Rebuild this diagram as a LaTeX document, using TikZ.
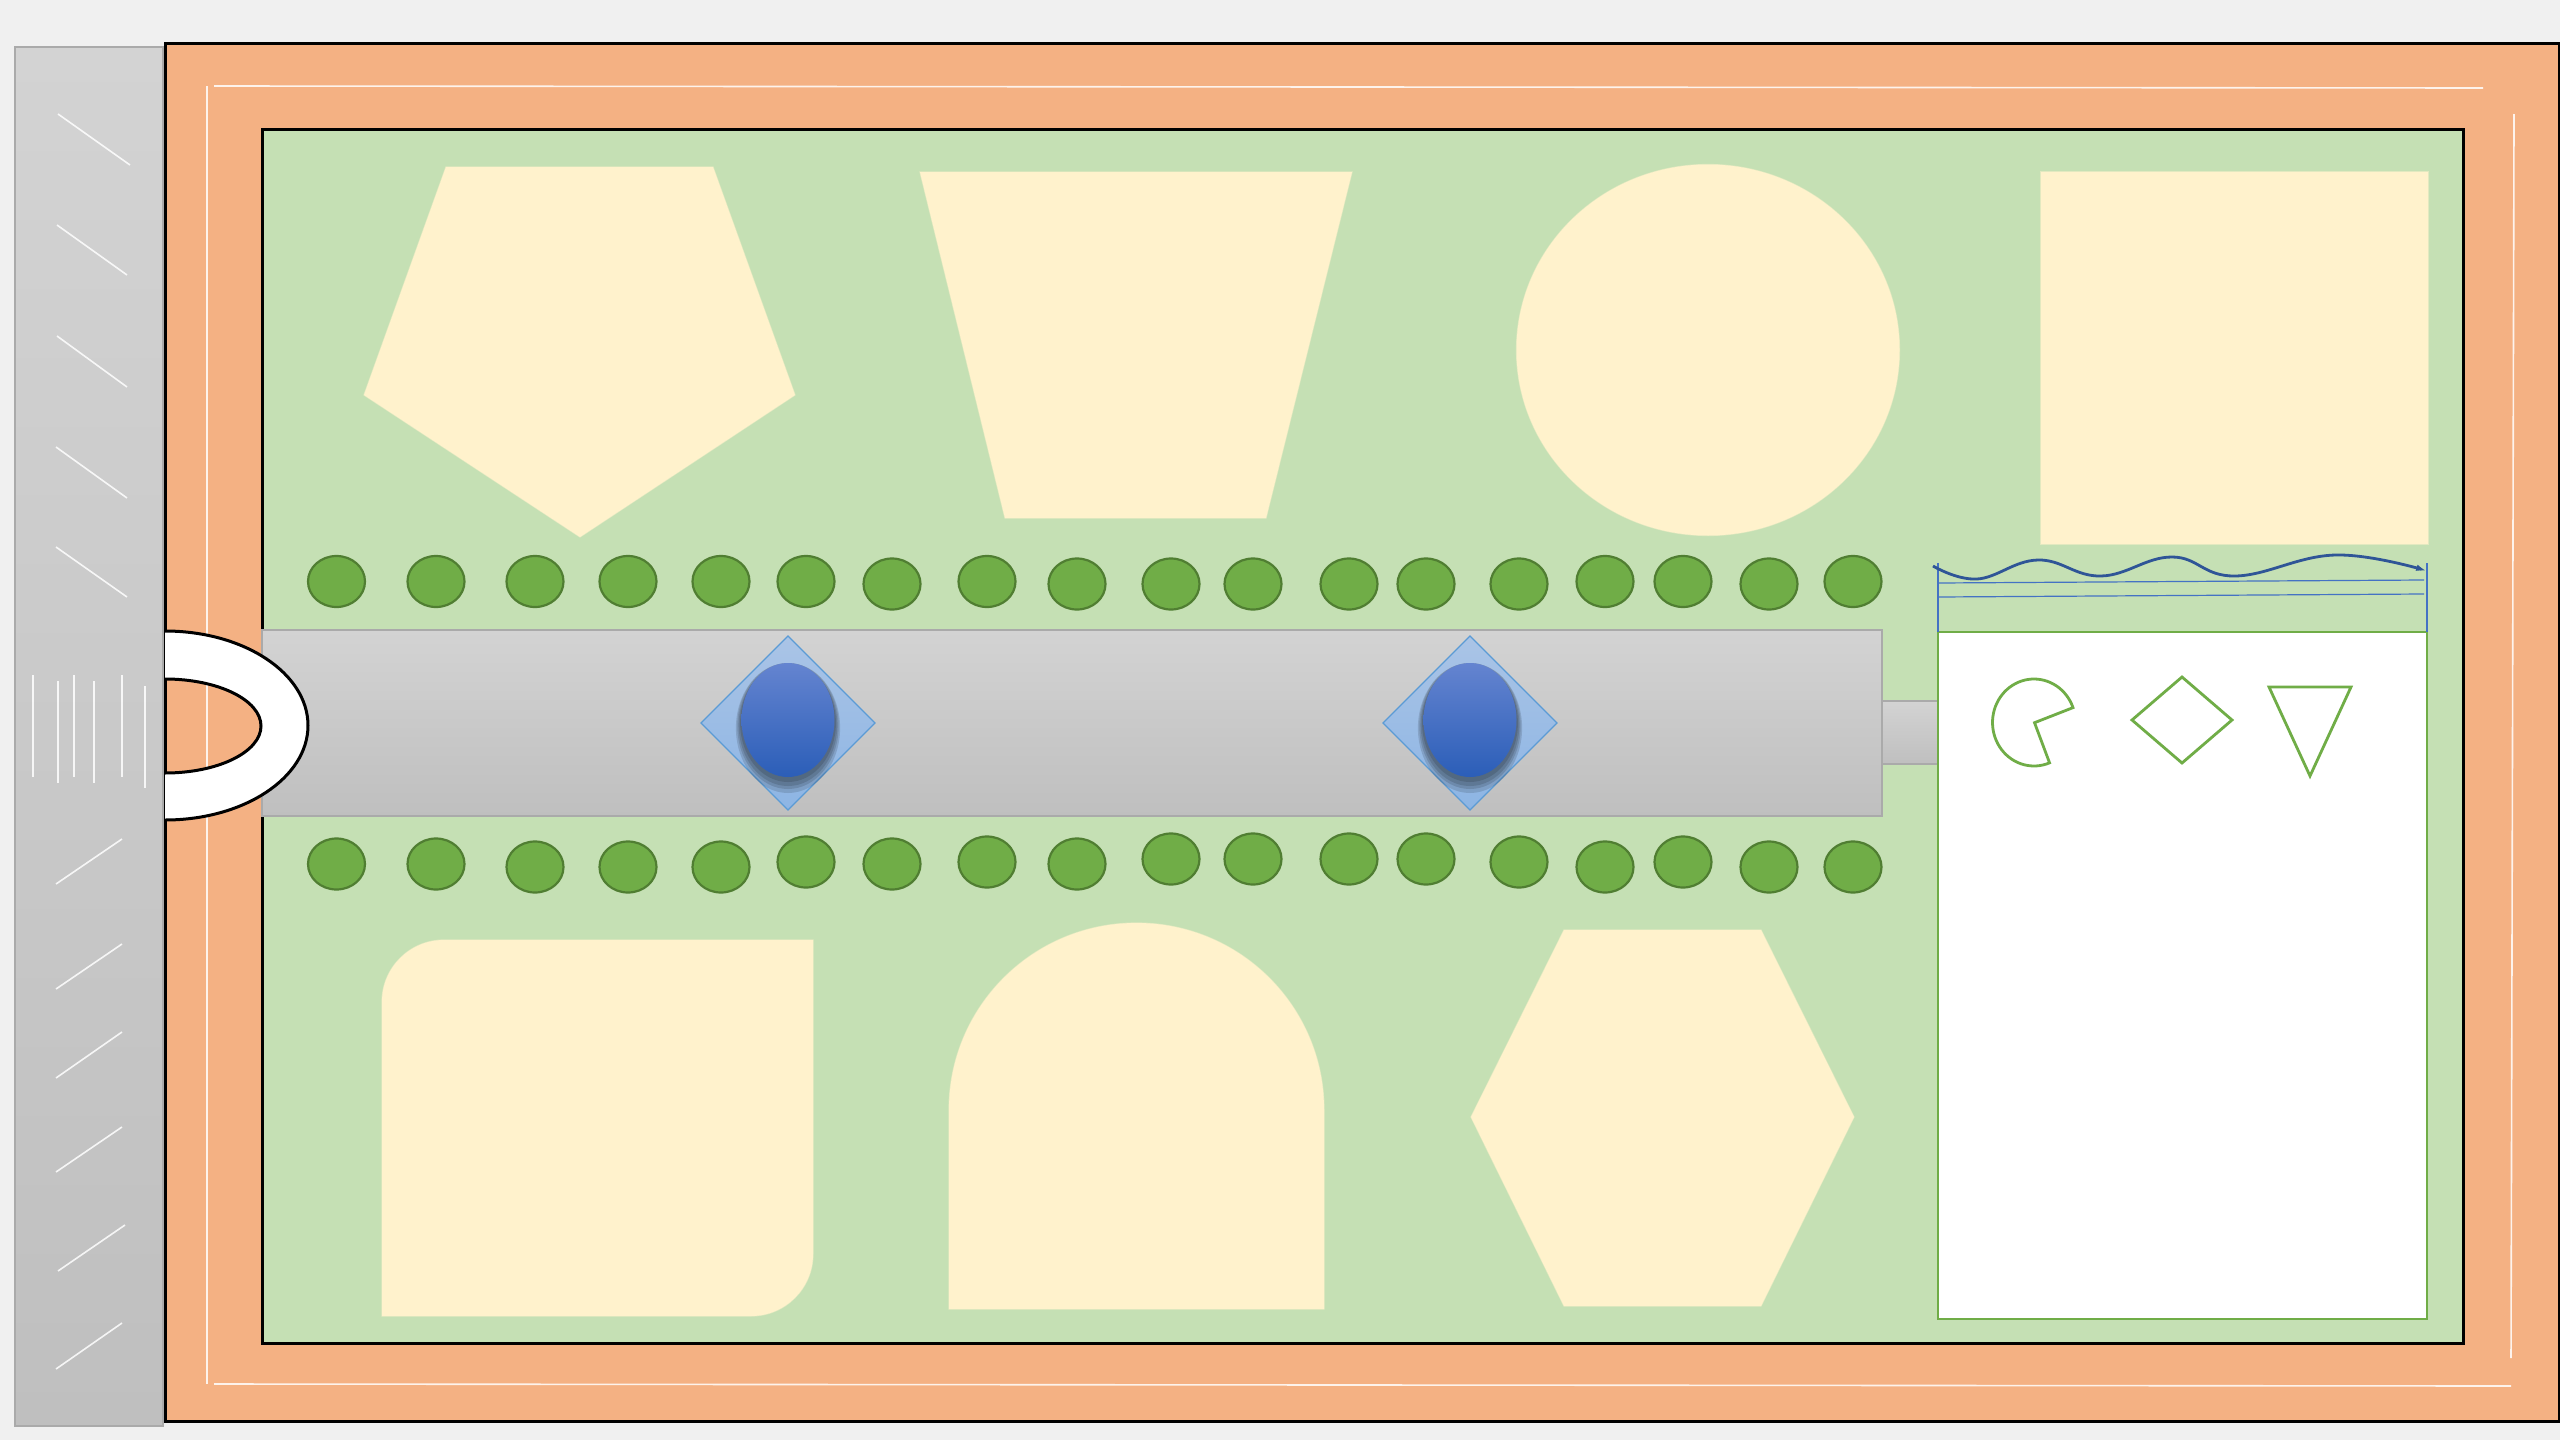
\documentclass[tikz,border=0pt]{standalone}
\usetikzlibrary{arrows.meta}
\tikzset{
  panelshade/.style={top color={rgb,255:red,211;green,211;blue,211},bottom color={rgb,255:red,191;green,191;blue,191},draw={rgb,255:red,170;green,170;blue,170},line width=1pt},
  frameline/.style={draw=black,line width=1.5pt},
  scratchline/.style={draw=white,line width=.8pt,opacity=.85},
  creamshape/.style={fill={rgb,255:red,255;green,242;blue,204},draw={rgb,255:red,255;green,242;blue,204},draw opacity=.5,line width=.6pt},
  greendot/.style={fill={rgb,255:red,112;green,173;blue,71},draw={rgb,255:red,80;green,126;blue,50},line width=1.1pt},
  bluediamond/.style={top color={rgb,255:red,170;green,196;blue,230},bottom color={rgb,255:red,141;green,181;blue,228},draw={rgb,255:red,91;green,155;blue,213},line width=.6pt},
  blueoval/.style={top color={rgb,255:red,100;green,132;blue,208},bottom color={rgb,255:red,43;green,94;blue,184}},
  greenoutline/.style={draw={rgb,255:red,112;green,173;blue,71},line width=1.4pt,line join=miter},
  bluerule/.style={draw={rgb,255:red,68;green,114;blue,196},line width=.6pt}
}
\begin{document}
\begin{tikzpicture}[x=.5pt,y=-.5pt]
\path[use as bounding box,fill={rgb,255:red,240;green,240;blue,240}] (0,0) rectangle (2560,1440);
\path[panelshade] (15,47) rectangle (163,1426);
\path[fill={rgb,255:red,244;green,177;blue,131},frameline] (165,43) rectangle (2559,1421);
\path[fill={rgb,255:red,197;green,224;blue,180},frameline] (262.5,129.5) rectangle (2463,1343);
\draw[scratchline] (214,86) -- (2483,88);
\draw[scratchline] (207,86) -- (207,1384);
\draw[scratchline] (214,1384) -- (2511,1386);
\draw[scratchline] (2514,114) -- (2511,1358);
\draw[scratchline] (58,114) -- (130,165);
\draw[scratchline] (57,225) -- (127,275);
\draw[scratchline] (57,336) -- (127,387);
\draw[scratchline] (56,447) -- (127,498);
\draw[scratchline] (56,547) -- (127,597);
\draw[scratchline] (33,675) -- (33,777);
\draw[scratchline] (58,681) -- (58,783);
\draw[scratchline] (74,675) -- (74,777);
\draw[scratchline] (94,681) -- (94,783);
\draw[scratchline] (122,675) -- (122,777);
\draw[scratchline] (145,686) -- (145,788);
\draw[scratchline] (56,884) -- (122,839);
\draw[scratchline] (56,989) -- (122,944);
\draw[scratchline] (56,1078) -- (122,1032);
\draw[scratchline] (56,1172) -- (122,1127);
\draw[scratchline] (58,1271) -- (125,1225);
\draw[scratchline] (56,1369) -- (122,1323);
\path[creamshape] (446,167) -- (713,167) -- (795,395) -- (580,537) -- (364,395) -- cycle;
\path[creamshape] (920,172) -- (1352,172) -- (1266,518) -- (1005,518) -- cycle;
\path[creamshape] (1708,350) ellipse (191.5 and 185.5);
\path[creamshape] (2041,172) rectangle (2428,544);
\path[creamshape] (444,940) -- (813,940) -- (813,1254) arc[start angle=0,end angle=90,radius=62] -- (382,1316) -- (382,1002) arc[start angle=180,end angle=270,radius=62] -- cycle;
\path[creamshape] (949,1309) -- (949,1110) arc[start angle=180,end angle=360,x radius=187.5,y radius=187] -- (1324,1309) -- cycle;
\path[creamshape] (1564,930) -- (1761,930) -- (1854,1117) -- (1761,1306) -- (1564,1306) -- (1471,1117) -- cycle;
\path[panelshade] (262,630) rectangle (1882,816);
\path[panelshade] (1882,701) rectangle (1938,764);
\path[fill=white,draw=none] (165,631) arc[start angle=-90,end angle=90,x radius=143,y radius=94.5] -- (165,773) arc[start angle=90,end angle=-90,x radius=96,y radius=47] -- cycle;
\draw[frameline] (165,631) arc[start angle=-90,end angle=90,x radius=143,y radius=94.5];
\draw[frameline] (165,679) arc[start angle=-90,end angle=90,x radius=96,y radius=47];
\path[bluediamond] (788,636) -- (875,723) -- (788,810) -- (701,723) -- cycle;
\foreach \grow/\lift in {8/8,6/6,4/5,2/3}{
  \path[fill=black,opacity=.13] (788,720+\lift) ellipse ({46.5+.7*\grow} and {57+\grow});
}
\path[blueoval] (788,720) ellipse (46.5 and 57);
\path[bluediamond] (1470,636) -- (1557,723) -- (1470,810) -- (1383,723) -- cycle;
\foreach \grow/\lift in {8/8,6/6,4/5,2/3}{
  \path[fill=black,opacity=.13] (1470,720+\lift) ellipse ({46.5+.7*\grow} and {57+\grow});
}
\path[blueoval] (1470,720) ellipse (46.5 and 57);
\path[greendot] (336.5,581.5) ellipse (28.5 and 25.5);
\path[greendot] (436,581.5) ellipse (28.5 and 25.5);
\path[greendot] (535,581.5) ellipse (28.5 and 25.5);
\path[greendot] (628,581.5) ellipse (28.5 and 25.5);
\path[greendot] (721,581.5) ellipse (28.5 and 25.5);
\path[greendot] (806,581.5) ellipse (28.5 and 25.5);
\path[greendot] (892,584) ellipse (28.5 and 25.5);
\path[greendot] (987,581.5) ellipse (28.5 and 25.5);
\path[greendot] (1077,584) ellipse (28.5 and 25.5);
\path[greendot] (1171,584) ellipse (28.5 and 25.5);
\path[greendot] (1253,584) ellipse (28.5 and 25.5);
\path[greendot] (1349,584) ellipse (28.5 and 25.5);
\path[greendot] (1426,584) ellipse (28.5 and 25.5);
\path[greendot] (1519,584) ellipse (28.5 and 25.5);
\path[greendot] (1605,581.5) ellipse (28.5 and 25.5);
\path[greendot] (1683,581.5) ellipse (28.5 and 25.5);
\path[greendot] (1769,584) ellipse (28.5 and 25.5);
\path[greendot] (1853,581.5) ellipse (28.5 and 25.5);
\path[greendot] (336.5,864) ellipse (28.5 and 25.5);
\path[greendot] (436,864) ellipse (28.5 and 25.5);
\path[greendot] (535,867) ellipse (28.5 and 25.5);
\path[greendot] (628,867) ellipse (28.5 and 25.5);
\path[greendot] (721,867) ellipse (28.5 and 25.5);
\path[greendot] (806,862) ellipse (28.5 and 25.5);
\path[greendot] (892,864) ellipse (28.5 and 25.5);
\path[greendot] (987,862) ellipse (28.5 and 25.5);
\path[greendot] (1077,864) ellipse (28.5 and 25.5);
\path[greendot] (1171,859) ellipse (28.5 and 25.5);
\path[greendot] (1253,859) ellipse (28.5 and 25.5);
\path[greendot] (1349,859) ellipse (28.5 and 25.5);
\path[greendot] (1426,859) ellipse (28.5 and 25.5);
\path[greendot] (1519,862) ellipse (28.5 and 25.5);
\path[greendot] (1605,867) ellipse (28.5 and 25.5);
\path[greendot] (1683,862) ellipse (28.5 and 25.5);
\path[greendot] (1769,867) ellipse (28.5 and 25.5);
\path[greendot] (1853,867) ellipse (28.5 and 25.5);
\path[fill=white,greenoutline] (1938,632) rectangle (2427,1319);
\draw[greenoutline] plot[domain=20:292,samples=60] ({2034+41.5*cos(\x)},{722.5-43.5*sin(\x)}) -- (2034.5,722.7) -- cycle;
\draw[greenoutline] (2182,677) -- (2232,720) -- (2182,763) -- (2132,720) -- cycle;
\draw[greenoutline] (2269,687) -- (2351,687) -- (2310,776) -- cycle;
\draw[bluerule] (1938,563) -- (1938,632);
\draw[bluerule] (2427,563) -- (2427,632);
\draw[bluerule] (1938,583) -- (2424,580);
\draw[bluerule] (1938,597) -- (2424,594);
\draw[draw={rgb,255:red,47;green,85;blue,151},line width=1.4pt,-{Latex[length=7pt,width=3pt]}] plot[smooth,tension=.7] coordinates {(1933,566) (1977,579) (2038,560) (2101,576) (2172,557) (2235,576) (2336,555) (2430,572)};
\end{tikzpicture}
\end{document}
